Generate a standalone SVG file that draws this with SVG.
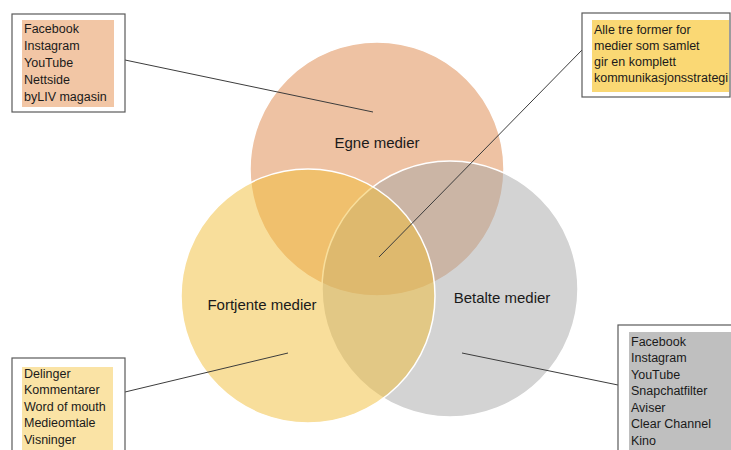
<svg xmlns="http://www.w3.org/2000/svg" width="731" height="450" viewBox="0 0 731 450">
<style>
.c{stroke:#fff;stroke-width:1.5;fill-opacity:0.5}
.box{fill:#fff;stroke:#5a5a5a;stroke-width:1.2}
.t{font-family:"Liberation Sans",Arial,sans-serif;font-size:12.5px;fill:#1a1a1a}
.lbl{font-family:"Liberation Sans",Arial,sans-serif;font-size:15px;fill:#1a1a1a;text-anchor:middle}
.ln{stroke:#3c3c3c;stroke-width:1;fill:none}
</style>
<rect width="731" height="450" fill="#fff"/>
<g id="egne"><circle class="c" cx="377" cy="169" r="127" fill="#DD8547"/></g>
<g id="betalte"><circle class="c" cx="450" cy="289" r="128" fill="#A7A7A7"/></g>
<g id="fortjente"><circle class="c" cx="308" cy="296" r="127" fill="#F1BD37"/></g>
<g id="labels">
<text class="lbl" x="377" y="148">Egne medier</text>
<text class="lbl" x="262" y="310">Fortjente medier</text>
<text class="lbl" x="502" y="303">Betalte medier</text>
</g>
<g id="connectors">
<line class="ln" x1="125" y1="60" x2="373" y2="112"/>
<line class="ln" x1="582" y1="50" x2="379" y2="257"/>
<line class="ln" x1="125" y1="392" x2="288" y2="353"/>
<line class="ln" x1="618" y1="385" x2="462" y2="353"/>
</g>
<g id="box-egne">
<rect class="box" x="12" y="14" width="113" height="98"/>
<rect x="22" y="20" width="92" height="87" fill="#F2C6A5"/>
<text class="t" x="24" y="32.5">Facebook</text>
<text class="t" x="24" y="49.5">Instagram</text>
<text class="t" x="24" y="66.5">YouTube</text>
<text class="t" x="24" y="83.5">Nettside</text>
<text class="t" x="24" y="100.5">byLIV magasin</text>
</g>
<g id="box-alle">
<rect class="box" x="582" y="13" width="148" height="84"/>
<rect x="592" y="20" width="137" height="72" fill="#FAD874"/>
<text class="t" x="594" y="33.5">Alle tre former for</text>
<text class="t" x="594" y="49.8">medier som samlet</text>
<text class="t" x="594" y="66">gir en komplett</text>
<text class="t" x="594" y="82.3">kommunikasjonsstrategi</text>
</g>
<g id="box-fortjente">
<rect class="box" x="12" y="358" width="113" height="100"/>
<rect x="22" y="367" width="91" height="83" fill="#FAE3A5"/>
<text class="t" x="24" y="377.5">Delinger</text>
<text class="t" x="24" y="394">Kommentarer</text>
<text class="t" x="24" y="410.5">Word of mouth</text>
<text class="t" x="24" y="427">Medieomtale</text>
<text class="t" x="24" y="443.5">Visninger</text>
</g>
<g id="box-betalte">
<rect class="box" x="618" y="325" width="120" height="130"/>
<rect x="629" y="332" width="102" height="118" fill="#BFBFBF"/>
<text class="t" x="631" y="345.5">Facebook</text>
<text class="t" x="631" y="362">Instagram</text>
<text class="t" x="631" y="378.5">YouTube</text>
<text class="t" x="631" y="395">Snapchatfilter</text>
<text class="t" x="631" y="411.5">Aviser</text>
<text class="t" x="631" y="428">Clear Channel</text>
<text class="t" x="631" y="444.5">Kino</text>
</g>
</svg>
